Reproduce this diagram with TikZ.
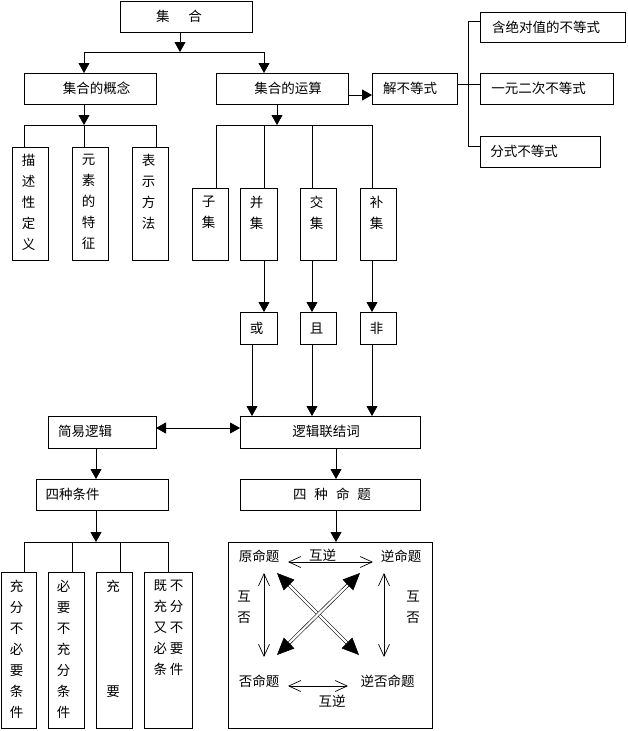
\documentclass[tikz,border=0pt]{standalone}
\usepackage{fontspec}
\newfontfamily\cjk{Noto Sans CJK SC}
\usetikzlibrary{arrows.meta}
\begin{document}
\begin{tikzpicture}[x=1pt,y=-1pt,
  bx/.style={draw, line width=0.8pt, anchor=north west, inner sep=0pt, outer sep=0pt},
  tx/.style={font=\cjk\fontsize{13.5}{21}\selectfont, inner sep=0pt, align=center},
  ln/.style={line width=0.8pt},
  arr/.style={line width=0.8pt, -{Triangle[length=10pt,width=11pt]}},
  darr/.style={line width=0.8pt, {Triangle[length=10pt,width=11pt]}-{Triangle[length=10pt,width=11pt]}},
  barb/.style={line width=0.7pt, {Straight Barb[length=12pt,width=11pt]}-{Straight Barb[length=12pt,width=11pt]}},
  dbl/.style={double, double distance=2.2pt, line width=0.6pt, {Triangle[length=17pt,width=15pt]}-{Triangle[length=17pt,width=15pt]}}
]
\useasboundingbox (0,0) rectangle (627,731);
% boxes
\node[bx, minimum width=132pt, minimum height=31pt] (jihe) at (120,1) {};
\node[bx, minimum width=132pt, minimum height=31pt] (gn) at (24,73) {};
\node[bx, minimum width=132pt, minimum height=31pt] (ys) at (216,73) {};
\node[bx, minimum width=85pt, minimum height=31pt] (jbd) at (372,73) {};
\node[bx, minimum width=145pt, minimum height=30pt] (jd) at (480,12) {};
\node[bx, minimum width=133pt, minimum height=31pt] (ye) at (480,73) {};
\node[bx, minimum width=120pt, minimum height=31pt] (fs) at (480,136) {};
\node[bx, minimum width=36pt, minimum height=113pt] (ms) at (12,147) {};
\node[bx, minimum width=36pt, minimum height=113pt] (yt) at (72,147) {};
\node[bx, minimum width=36pt, minimum height=113pt] (bs) at (132,147) {};
\node[bx, minimum width=36pt, minimum height=72pt] (zj) at (192,188) {};
\node[bx, minimum width=37pt, minimum height=72pt] (bj) at (240,188) {};
\node[bx, minimum width=36pt, minimum height=72pt] (jj) at (300,188) {};
\node[bx, minimum width=36pt, minimum height=72pt] (buj) at (360,188) {};
\node[bx, minimum width=37pt, minimum height=32pt] (huo) at (240,312) {};
\node[bx, minimum width=36pt, minimum height=32pt] (qie) at (300,312) {};
\node[bx, minimum width=36pt, minimum height=32pt] (fei) at (360,312) {};
\node[bx, minimum width=108pt, minimum height=32pt] (jyl) at (48,416) {};
\node[bx, minimum width=180pt, minimum height=32pt] (ljl) at (240,416) {};
\node[bx, minimum width=132pt, minimum height=31pt] (szt) at (36,479) {};
\node[bx, minimum width=180pt, minimum height=31pt] (szm) at (240,479) {};
\node[bx, minimum width=35pt, minimum height=156pt] (c1) at (1,572) {};
\node[bx, minimum width=36pt, minimum height=156pt] (c2) at (48,572) {};
\node[bx, minimum width=36pt, minimum height=156pt] (c3) at (96,572) {};
\node[bx, minimum width=48pt, minimum height=156pt] (c4) at (144,572) {};
\node[bx, minimum width=204pt, minimum height=186pt] (sq) at (228,542) {};
% texts
\node[tx] (t-jihe) at (179,16) {集\hspace{19pt}合};
\node[tx] (t-gn) at (96.5,88.5) {集合的概念};
\node[tx] (t-ys) at (288,88.5) {集合的运算};
\node[tx] (t-jbd) at (410,88) {解不等式};
\node[tx] (t-jd) at (546,27) {含绝对值的不等式};
\node[tx] (t-ye) at (538.5,88.5) {一元二次不等式};
\node[tx] (t-fs) at (524,151.5) {分式不等式};
\node[tx, anchor=north] (t-ms) at (28.5,154) {描\\述\\性\\定\\义};
\node[tx, anchor=north] (t-yt) at (88.5,154) {元\\素\\的\\特\\征};
\node[tx, anchor=north] (t-bs) at (148.5,154) {表\\示\\方\\法};
\node[tx, anchor=north] (t-zj) at (208.5,196) {子\\集};
\node[tx, anchor=north] (t-bj) at (256.5,196) {并\\集};
\node[tx, anchor=north] (t-jj) at (316.5,196) {交\\集};
\node[tx, anchor=north] (t-buj) at (376.5,196) {补\\集};
\node[tx] (t-huo) at (256.5,328) {或};
\node[tx] (t-qie) at (316.5,328) {且};
\node[tx] (t-fei) at (376.5,328) {非};
\node[tx] (t-jyl) at (85,431.5) {简易逻辑};
\node[tx] (t-ljl) at (326,431.5) {逻辑联结词};
\node[tx] (t-szt) at (72.5,494.5) {四种条件};
\node[tx] (t-szm) at (332,494.5) {四\hspace{8pt}种\hspace{8pt}命\hspace{8pt}题};
\node[tx, anchor=north] (t-c1) at (16.5,580) {充\\分\\不\\必\\要\\条\\件};
\node[tx, anchor=north] (t-c2) at (63.5,580) {必\\要\\不\\充\\分\\条\\件};
\node[tx, anchor=north] (t-c3) at (113,580) {充\\[84pt]要};
\node[tx, anchor=north] (t-c4) at (168.5,580) {既\hspace{3pt}不\\充\hspace{3pt}分\\又\hspace{3pt}不\\必\hspace{3pt}要\\条\hspace{3pt}件};
\node[tx] (yuan) at (259,556) {原命题};
\node[tx] (ni) at (401,556) {逆命题};
\node[tx] (fou) at (259,681) {否命题};
\node[tx] (nifou) at (387.5,681) {逆否命题};
\node[tx] (hn1) at (322.5,555) {互逆};
\node[tx] (hn2) at (332,701) {互逆};
\node[tx, anchor=north] (hf1) at (244,591) {互\\否};
\node[tx, anchor=north] (hf2) at (413,591) {互\\否};
% connectors top
\coordinate (j0) at (180,52);
\coordinate (j0l) at (84,52);
\coordinate (j0r) at (264,52);
\draw[arr] (jihe.south -| j0) -- (j0);
\draw[ln] (j0l) -- (j0r);
\draw[arr] (j0l) -- (j0l |- gn.north);
\draw[arr] (j0r) -- (j0r |- ys.north);
\draw[arr] (ys.east |- 0,95) -- (jbd.west |- 0,95);
\coordinate (k0) at (468,84);
\coordinate (k1) at (468,21);
\coordinate (k2) at (468,146);
\draw[ln] (jbd.east |- k0) -- (k0);
\draw[ln] (k1) -- (k2);
\draw[ln] (k1) -- (jd.west |- k1);
\draw[ln] (k0) -- (ye.west |- k0);
\draw[ln] (k2) -- (fs.west |- k2);
% concept branch
\coordinate (g0) at (84,125);
\draw[arr] (gn.south -| g0) -- (g0);
\draw[ln] (24,125) -- (156,125);
\draw[ln] (24,125) -- (24,0 |- ms.north);
\draw[ln] (84,125) -- (84,0 |- yt.north);
\draw[ln] (156,125) -- (156,0 |- bs.north);
% operation branch
\coordinate (o0) at (277,125);
\draw[arr] (ys.south -| o0) -- (o0);
\draw[ln] (216,125) -- (372,125);
\draw[ln] (216,125) -- (216,0 |- zj.north);
\draw[ln] (264,125) -- (264,0 |- bj.north);
\draw[ln] (312,125) -- (312,0 |- jj.north);
\draw[ln] (372,125) -- (372,0 |- buj.north);
\draw[arr] (264,0 |- bj.south) -- (264,0 |- huo.north);
\draw[arr] (312,0 |- jj.south) -- (312,0 |- qie.north);
\draw[arr] (372,0 |- buj.south) -- (372,0 |- fei.north);
\draw[arr] (252,0 |- huo.south) -- (252,0 |- ljl.north);
\draw[arr] (312,0 |- qie.south) -- (312,0 |- ljl.north);
\draw[arr] (372,0 |- fei.south) -- (372,0 |- ljl.north);
% logic
\draw[darr] (jyl.east |- 0,428) -- (ljl.west |- 0,428);
\draw[arr] (96,0 |- jyl.south) -- (96,0 |- szt.north);
\coordinate (s0) at (96,542);
\draw[arr] (szt.south -| s0) -- (s0);
\draw[ln] (24,542) -- (168,542);
\draw[ln] (24,542) -- (24,0 |- c1.north);
\draw[ln] (72,542) -- (72,0 |- c2.north);
\draw[ln] (120,542) -- (120,0 |- c3.north);
\draw[ln] (168,542) -- (168,0 |- c4.north);
\draw[arr] (336,0 |- ljl.south) -- (336,0 |- szm.north);
\draw[arr] (336,0 |- szm.south) -- (336,0 |- sq.north);
% square arrows
\coordinate (a1) at (288,562);
\coordinate (a2) at (373,562);
\coordinate (b1) at (288,686);
\coordinate (b2) at (348,686);
\coordinate (l1) at (264,573);
\coordinate (l2) at (264,657);
\coordinate (r1) at (384,573);
\coordinate (r2) at (384,657);
\coordinate (d1) at (277,573);
\coordinate (d2) at (359,655);
\coordinate (e1) at (360,573);
\coordinate (e2) at (277,655);
\draw[barb] (a1) -- (a2);
\draw[barb] (b1) -- (b2);
\draw[barb] (l1) -- (l2);
\draw[barb] (r1) -- (r2);
\draw[dbl] (d1) -- (d2);
\draw[dbl] (e1) -- (e2);
\end{tikzpicture}
\end{document}
